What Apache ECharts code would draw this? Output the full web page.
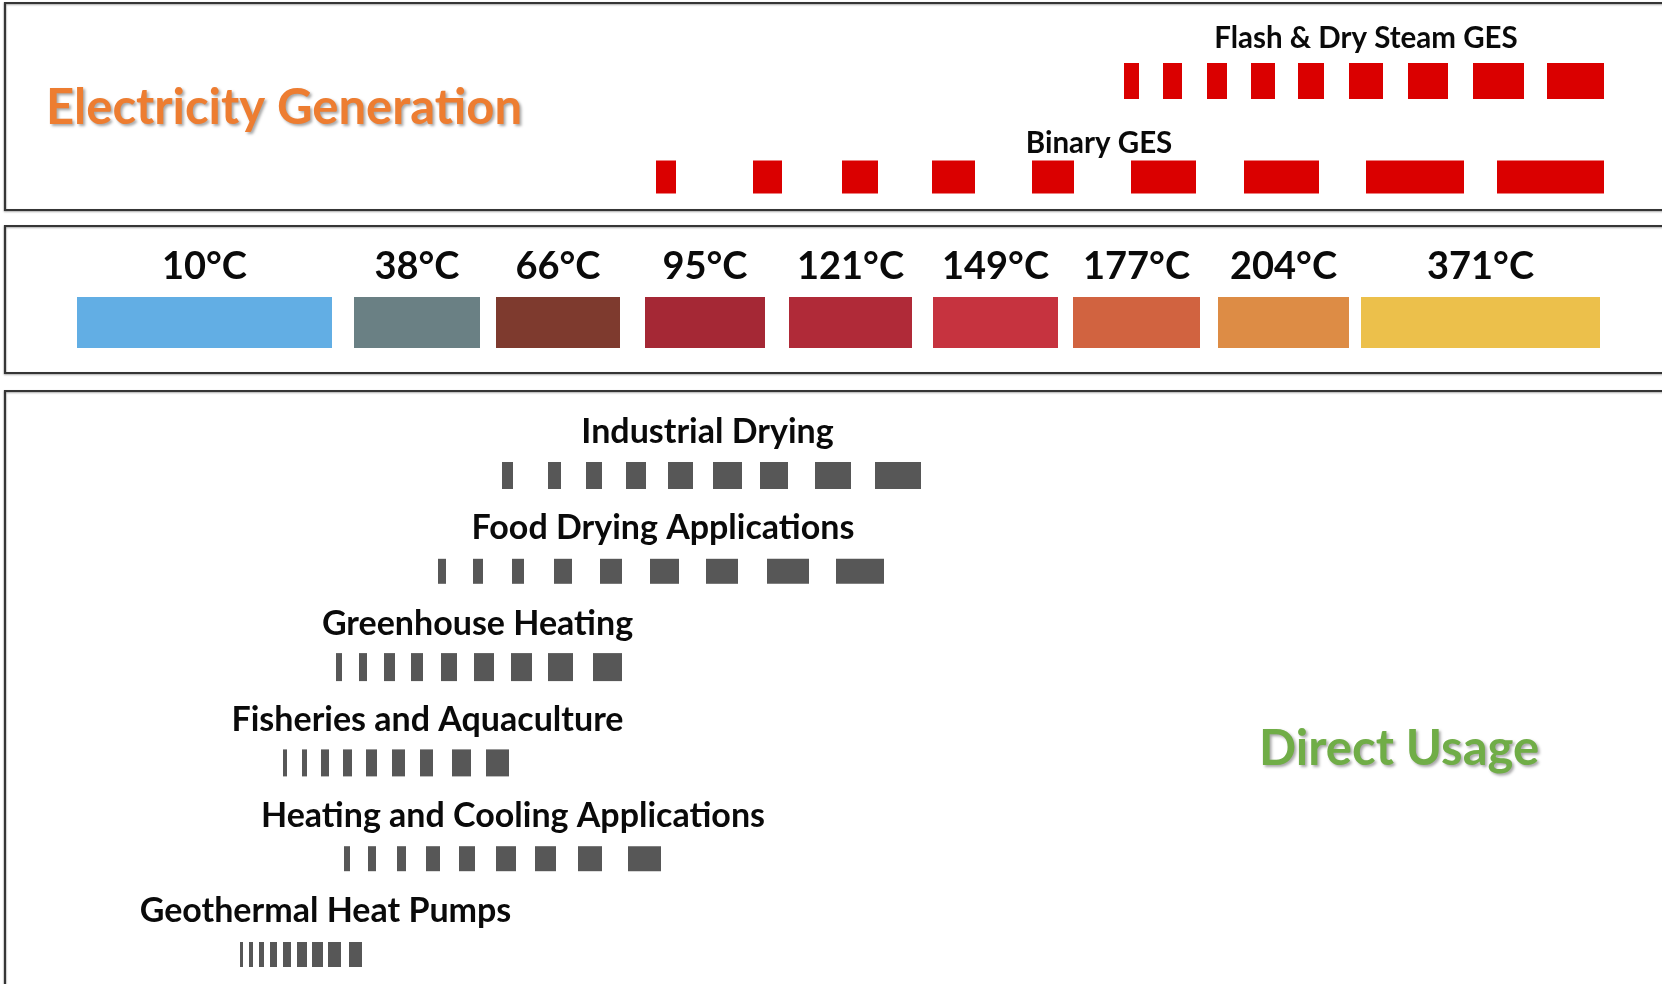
<!DOCTYPE html>
<html><head><meta charset="utf-8">
<script src="https://cdn.jsdelivr.net/npm/echarts@6/dist/echarts.min.js"></script>
<style>html,body{margin:0;padding:0;background:#fff}#c{width:1662px;height:984px}</style>
</head><body><div id="c"></div>
<script>
// ---------------- data (in position units along the temperature strip) ----------------
const electricityRows = ['Flash & Dry Steam GES', 'Binary GES'];
const flashDrySteamDashes = [[1124,1139],[1163,1182],[1207,1227],[1251,1275],[1298,1324],[1349,1383],[1408,1448],[1473,1524],[1547,1604]];
const binaryDashes = [[656,676],[753,782],[842,878],[932,975],[1032,1074],[1131,1196],[1244,1319],[1366,1464],[1497,1604]];

const temperatureLabels = ['10°C','38°C','66°C','95°C','121°C','149°C','177°C','204°C','371°C'];
const temperatureBands = [[77,332],[354,480],[496,620],[645,765],[789,912],[933,1058],[1073,1200],[1218,1349],[1361,1600]];

const directUseRows = ['Industrial Drying','Food Drying Applications','Greenhouse Heating','Fisheries and Aquaculture','Heating and Cooling Applications','Geothermal Heat Pumps'];
const industrialDryingDashes = [[502,513],[548,561],[586,602],[626,646],[668,693],[713,742],[760,788],[815,851],[875,921]];
const foodDryingDashes = [[438,446],[473,483],[512,524],[554,572],[600,622],[650,679],[706,738],[767,809],[836,884]];
const greenhouseDashes = [[336,342],[359,367],[384,395],[411,423],[441,457],[474,494],[511,532],[548,573],[593,622]];
const fisheriesDashes = [[283,287],[302,307],[321,329],[343,352],[366,377],[392,405],[420,433],[452,471],[486,509]];
const heatingCoolingDashes = [[344,350],[368,376],[397,406],[426,440],[459,475],[496,516],[535,556],[578,602],[628,661]];
const heatPumpDashes = [[240,243],[249,253],[259,264],[270,277],[283,291],[297,307],[312,323],[328,341],[349,362]];

// ---------------- layout & style ----------------
const FONT = 'Lato, "Open Sans", sans-serif';
const electricityLabelX = [1366, 1099];
const electricityLabelDy = [-42.5, -33.5];
const electricityThick = [36, 33];
const directLabelX = [707.5, 663, 477.5, 427.5, 513, 325.5];
const directLabelDy = -43;
const directThick = [27, 25, 28, 27, 25, 25];
const bandColors = ['#62AEE4','#6A8084','#7E3A2E','#A52835','#B02A38','#C6333F','#D16340','#DD8C45','#ECC04B'];
const RED = '#DA0000', GREY = '#575757';

function dashSeries(name, dashes, row, gi, thick, color) {
  return {
    type: 'custom', name: name, xAxisIndex: gi, yAxisIndex: gi,
    encode: { x: [0, 1], y: 2 },
    data: dashes.map(d => [d[0], d[1], row]),
    renderItem: function (p, api) {
      const a = api.coord([api.value(0), api.value(2)]);
      const b = api.coord([api.value(1), api.value(2)]);
      return { type: 'rect', shape: { x: a[0], y: a[1] - thick / 2, width: b[0] - a[0], height: thick }, style: { fill: color } };
    }
  };
}
function labelSeries(rows, xs, dys, gi, size) {
  return {
    type: 'custom', xAxisIndex: gi, yAxisIndex: gi, encode: { x: 0, y: 1 },
    data: rows.map((r, i) => [xs[i], i]),
    renderItem: function (p, api) {
      const c = api.coord([api.value(0), api.value(1)]);
      const dy = Array.isArray(dys) ? dys[p.dataIndex] : dys;
      return { type: 'text', x: c[0], y: c[1] + dy,
        style: { text: rows[p.dataIndex], font: 'bold ' + size + 'px ' + FONT, fill: '#0a0a0a', align: 'center', verticalAlign: 'middle' } };
    }
  };
}

const xAx = gi => ({ type: 'value', gridIndex: gi, min: 0, max: 1662, show: false });
const series = [
  dashSeries(electricityRows[0], flashDrySteamDashes, 0, 0, electricityThick[0], RED),
  dashSeries(electricityRows[1], binaryDashes, 1, 0, electricityThick[1], RED),
  labelSeries(electricityRows, electricityLabelX, electricityLabelDy, 0, 29.5),
  {
    type: 'custom', name: 'Temperature', xAxisIndex: 1, yAxisIndex: 1, encode: { x: [0, 1], y: 2 },
    data: temperatureBands.map(b => [b[0], b[1], 0]),
    renderItem: function (p, api) {
      const a = api.coord([api.value(0), api.value(2)]);
      const b = api.coord([api.value(1), api.value(2)]);
      const h = api.size([0, 1])[1];
      return { type: 'group', children: [
        { type: 'rect', shape: { x: a[0], y: a[1] - h / 2, width: b[0] - a[0], height: h }, style: { fill: bandColors[p.dataIndex] } },
        { type: 'text', x: (a[0] + b[0]) / 2, y: a[1] - 55.5,
          style: { text: temperatureLabels[p.dataIndex], font: 'bold 38px ' + FONT, fill: '#0a0a0a', align: 'center', verticalAlign: 'middle' } }
      ] };
    }
  }
];
const directData = [industrialDryingDashes, foodDryingDashes, greenhouseDashes, fisheriesDashes, heatingCoolingDashes, heatPumpDashes];
directData.forEach((d, i) => series.push(dashSeries(directUseRows[i], d, i, 2, directThick[i], GREY)));
series.push(labelSeries(directUseRows, directLabelX, directLabelDy, 2, 34));

const frameStyle = { fill: 'none', stroke: '#353535', lineWidth: 2.2, shadowBlur: 2, shadowColor: 'rgba(0,0,0,0.35)', shadowOffsetY: 1 };
const titleStyle = (text, x, y, color) => ({
  type: 'text', x: x, y: y,
  style: { text: text, font: 'bold 49px ' + FONT, fill: color, verticalAlign: 'middle',
    shadowColor: 'rgba(0,0,0,0.35)', shadowBlur: 3, shadowOffsetX: 2, shadowOffsetY: 2,
    textShadowColor: 'rgba(0,0,0,0.35)', textShadowBlur: 3, textShadowOffsetX: 2, textShadowOffsetY: 2 }
});

const chart = echarts.init(document.getElementById('c'));
chart.setOption({
  backgroundColor: '#ffffff',
  animation: false,
  grid: [
    { left: 0, right: 0, top: 33, height: 192 },
    { left: 0, right: 0, top: 297, height: 51 },
    { left: 0, right: 0, top: 475.5, height: 479 }
  ],
  xAxis: [xAx(0), xAx(1), xAx(2)],
  yAxis: [
    { type: 'category', gridIndex: 0, data: electricityRows, inverse: true, show: false },
    { type: 'category', gridIndex: 1, data: ['Temperature'], inverse: true, show: false },
    { type: 'value', gridIndex: 2, min: 0, max: directUseRows.length - 1, inverse: true, show: false }
  ],
  graphic: [
    { type: 'rect', shape: { x: 5, y: 3, width: 1700, height: 207 }, style: frameStyle, z: 10 },
    { type: 'rect', shape: { x: 5, y: 226, width: 1700, height: 147 }, style: frameStyle, z: 10 },
    { type: 'rect', shape: { x: 5, y: 391, width: 1700, height: 700 }, style: frameStyle, z: 10 },
    titleStyle('Electricity Generation', 46, 108.5, '#ED7D31'),
    titleStyle('Direct Usage', 1259, 749, '#70AD47')
  ],
  series: series
});
</script></body></html>
